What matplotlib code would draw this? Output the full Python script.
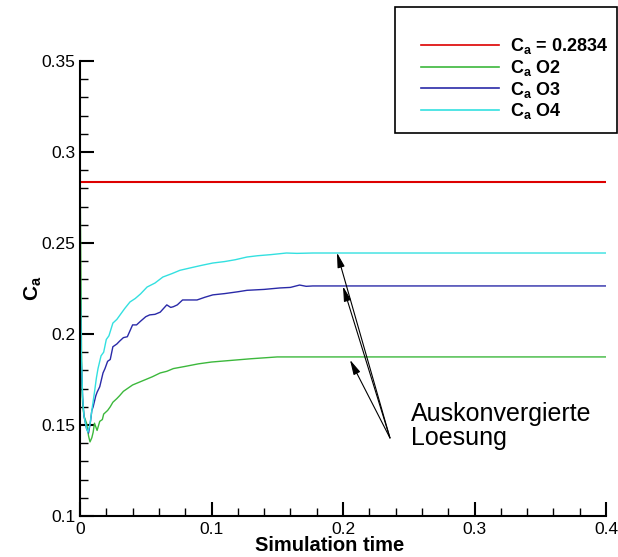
import matplotlib
matplotlib.use("Agg")
import matplotlib.pyplot as plt
from matplotlib.patches import Rectangle
from matplotlib.lines import Line2D
from matplotlib.ticker import MultipleLocator

plt.rcParams['font.family'] = ['Liberation Sans', 'DejaVu Sans']
plt.rcParams['mathtext.fontset'] = 'custom'
plt.rcParams['mathtext.rm'] = 'Liberation Sans:bold'
plt.rcParams['mathtext.default'] = 'rm'

# reference value
ca_ref = 0.2834
t_end = 0.4

# second order scheme
t_o2 = [0, 0.0005, 0.001, 0.0013, 0.002, 0.003, 0.005, 0.0065, 0.0076, 0.009,
        0.010, 0.011, 0.013, 0.015, 0.017, 0.018, 0.021, 0.023, 0.025, 0.028,
        0.03, 0.033, 0.035, 0.038, 0.04, 0.045, 0.05, 0.055, 0.061, 0.066,
        0.071, 0.08, 0.09, 0.1, 0.11, 0.12, 0.13, 0.14, 0.15, 0.16, 0.4]
ca_o2 = [0.295, 0.25, 0.205, 0.175, 0.162, 0.155, 0.151, 0.144, 0.1407, 0.143,
         0.146, 0.151, 0.147, 0.152, 0.153, 0.156, 0.158, 0.160, 0.1625, 0.1645,
         0.166, 0.1685, 0.1695, 0.171, 0.172, 0.1735, 0.175, 0.1765, 0.1786, 0.1795,
         0.181, 0.1822, 0.1836, 0.1846, 0.1852, 0.1858, 0.1864, 0.1869, 0.1874,
         0.1874, 0.1874]

# third order scheme
t_o3 = [0, 0.001, 0.002, 0.003, 0.005, 0.0065, 0.008, 0.009, 0.010, 0.012,
        0.013, 0.015, 0.0175, 0.019, 0.021, 0.023, 0.025, 0.028, 0.030, 0.033,
        0.036, 0.040, 0.043, 0.046, 0.050, 0.053, 0.057, 0.061, 0.066, 0.069,
        0.071, 0.074, 0.078, 0.083, 0.089, 0.095, 0.101, 0.11, 0.12, 0.127,
        0.14, 0.152, 0.16, 0.167, 0.172, 0.177, 0.4]
ca_o3 = [0.23, 0.185, 0.165, 0.155, 0.148, 0.1456, 0.152, 0.158, 0.160, 0.166,
         0.168, 0.171, 0.1786, 0.181, 0.185, 0.186, 0.193, 0.1945, 0.196, 0.198,
         0.1985, 0.205, 0.205, 0.207, 0.2095, 0.2105, 0.2108, 0.212, 0.216, 0.2146,
         0.215, 0.216, 0.2187, 0.2187, 0.2187, 0.2202, 0.2215, 0.2222, 0.2232,
         0.224, 0.2245, 0.2253, 0.2256, 0.2269, 0.2262, 0.2264, 0.2264]

# fourth order scheme
t_o4 = [0, 0.001, 0.002, 0.003, 0.005, 0.006, 0.0075, 0.009, 0.011, 0.0125,
        0.0137, 0.016, 0.018, 0.020, 0.022, 0.025, 0.028, 0.031, 0.034, 0.038,
        0.042, 0.046, 0.051, 0.057, 0.063, 0.07, 0.076, 0.085, 0.093, 0.101,
        0.11, 0.118, 0.127, 0.135, 0.145, 0.157, 0.165, 0.177, 0.4]
ca_o4 = [0.245, 0.19, 0.165, 0.155, 0.148, 0.146, 0.150, 0.158, 0.168, 0.176,
         0.181, 0.188, 0.190, 0.197, 0.199, 0.206, 0.208, 0.211, 0.214, 0.2176,
         0.2195, 0.222, 0.2258, 0.228, 0.2313, 0.2332, 0.235, 0.2365, 0.2378,
         0.239, 0.2398, 0.2408, 0.2423, 0.243, 0.2436, 0.2445, 0.2443, 0.2445,
         0.2445]

labels = ['$C_a$ = 0.2834', '$C_a$ O2', '$C_a$ O3', '$C_a$ O4']
colors = ['#dd0000', '#3cb83c', '#2a2aa8', '#33e0e0']

fig = plt.figure(figsize=(6.18, 5.57), dpi=100)
ax = fig.add_axes([80 / 618, 1 - 516 / 557, 526 / 618, 455 / 557])

ax.plot([0, t_end], [ca_ref, ca_ref], color=colors[0], lw=1.5)
ax.plot(t_o2, ca_o2, color=colors[1], lw=1.0)
ax.plot(t_o3, ca_o3, color=colors[2], lw=1.0)
ax.plot(t_o4, ca_o4, color=colors[3], lw=1.0)

ax.set_xlim(0, 0.4)
ax.set_ylim(0.1, 0.35)
ax.set_xticks([0, 0.1, 0.2, 0.3, 0.4])
ax.set_xticklabels(['0', '0.1', '0.2', '0.3', '0.4'])
ax.xaxis.set_minor_locator(MultipleLocator(0.02))
ax.set_yticks([0.1, 0.15, 0.2, 0.25, 0.3, 0.35])
ax.set_yticklabels(['0.1', '0.15', '0.2', '0.25', '0.3', '0.35'])
ax.yaxis.set_minor_locator(MultipleLocator(0.01))
ax.tick_params(which='both', direction='in', labelsize=12.5, width=1.5)
ax.tick_params(which='major', length=10)
ax.tick_params(which='minor', length=6, width=1)
ax.tick_params(axis='x', pad=4)
for s in ['top', 'right']:
    ax.spines[s].set_visible(False)
for s in ['left', 'bottom']:
    ax.spines[s].set_linewidth(1.5)
ax.patch.set_visible(False)

ax.set_xlabel('Simulation time', fontsize=14.5, fontweight='bold')
ax.xaxis.set_label_coords(0.475, -0.045, transform=ax.transAxes)
ax.xaxis.label.set_va('top')
ax.set_ylabel('$C_a$', fontsize=15, labelpad=-2)

# arrows pointing at the converged values
tail = (0.2357, 0.1429)
for tip in [(0.1954, 0.2447), (0.2, 0.2262), (0.2053, 0.1858)]:
    ax.annotate('', xy=tip, xytext=tail,
                arrowprops=dict(arrowstyle='-|>,head_length=0.9,head_width=0.22',
                                color='black', lw=0.8, shrinkA=0, shrinkB=0))
ax.text(0.2515, 0.1365, 'Auskonvergierte\nLoesung', fontsize=18,
        va='bottom', ha='left', linespacing=1.0)

# legend box
fig.patches.append(Rectangle((395 / 618, 1 - 133 / 557), 222 / 618, 126 / 557,
                             transform=fig.transFigure, facecolor='white',
                             edgecolor='black', lw=1.2, zorder=5))
handles = [Line2D([], [], color=c, lw=1.2) for c in colors]
fig.legend(handles, labels, loc='upper left',
           bbox_to_anchor=(412 / 618, 1 - 27 / 557), frameon=False,
           prop={'size': 13, 'weight': 'bold'}, handlelength=4.3,
           handletextpad=0.65, labelspacing=0.1, borderpad=0)

fig.savefig('out.png', dpi=100)
